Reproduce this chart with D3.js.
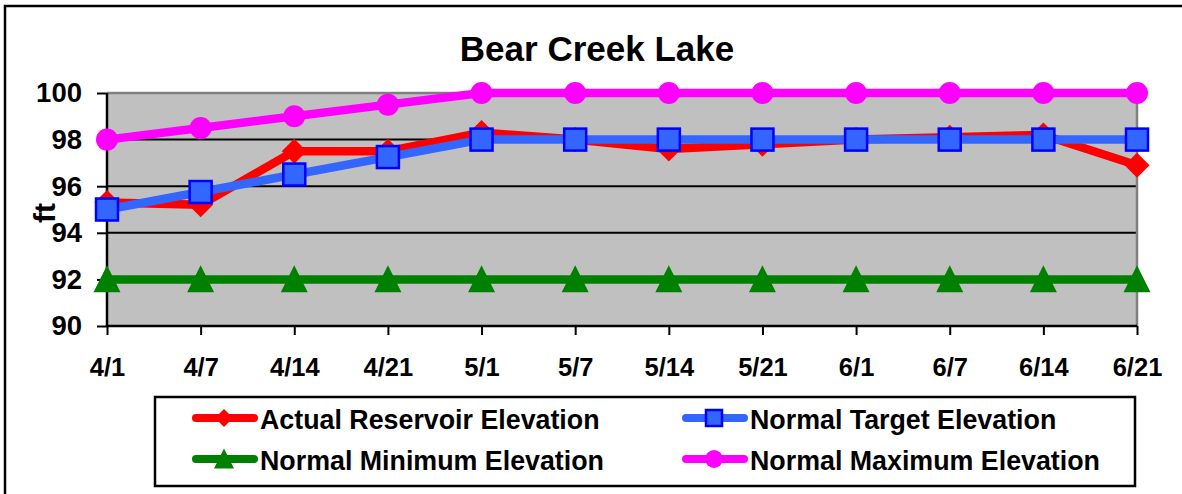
<!DOCTYPE html>
<html>
<head>
<meta charset="utf-8">
<script src="https://cdn.jsdelivr.net/npm/d3@7"></script>
<style>
  body { margin: 0; background: #fff; }
  svg { display: block; font-family: "Liberation Sans", Arial, sans-serif; font-weight: bold; }
</style>
</head>
<body>
<svg id="chart" width="1182" height="494"></svg>
<script>
// data
var dates = ["4/1", "4/7", "4/14", "4/21", "5/1", "5/7", "5/14", "5/21", "6/1", "6/7", "6/14", "6/21"];
var actual = [95.3, 95.2, 97.5, 97.5, 98.3, 98.0, 97.6, 97.8, 98.0, 98.1, 98.2, 96.9];
var target = [95.0, 95.75, 96.5, 97.25, 98, 98, 98, 98, 98, 98, 98, 98];
var minimum = [92, 92, 92, 92, 92, 92, 92, 92, 92, 92, 92, 92];
var maximum = [98, 98.5, 99, 99.5, 100, 100, 100, 100, 100, 100, 100, 100];
var yTicks = [90, 92, 94, 96, 98, 100];

var svg = d3.select("#chart");

// outer frame
svg.append("rect").attr("x", 5).attr("y", 6).attr("width", 1200).attr("height", 520)
  .attr("fill", "#fff").attr("stroke", "#000").attr("stroke-width", 2.5);

var x = d3.scalePoint().domain(dates).range([107, 1137]).padding(0);
var y = d3.scaleLinear().domain([90, 100]).range([326, 93]);

// plot area
svg.append("rect").attr("x", 107).attr("y", 93).attr("width", 1030).attr("height", 233)
  .attr("fill", "#C0C0C0");

// grid lines
svg.append("g").selectAll("line")
  .data(yTicks.filter(function(d) { return d > 90 && d < 100; }))
  .enter().append("line")
  .attr("x1", 107).attr("x2", 1137)
  .attr("y1", function(d) { return y(d); }).attr("y2", function(d) { return y(d); })
  .attr("stroke", "#000").attr("stroke-width", 2);

// top + right border
svg.append("path").attr("d", "M107," + y(100) + "H1137V326")
  .attr("fill", "none").attr("stroke", "#808080").attr("stroke-width", 2.5);

// axes
var yAxis = svg.append("g").attr("transform", "translate(107,0)")
  .call(d3.axisLeft(y).tickValues(yTicks).tickSize(10).tickPadding(15));
var xAxis = svg.append("g").attr("transform", "translate(0,326)")
  .call(d3.axisBottom(x).tickSize(9).tickPadding(23));

[yAxis, xAxis].forEach(function(a) {
  a.select(".domain").attr("stroke", "#000").attr("stroke-width", 2.5);
  a.selectAll(".tick line").attr("stroke", "#000").attr("stroke-width", 2);
  a.selectAll("text").attr("fill", "#000").style("font-family", "Liberation Sans, Arial, sans-serif")
    .style("font-weight", "bold");
});
yAxis.selectAll("text").style("font-size", "27.5px");
xAxis.selectAll("text").style("font-size", "25.5px");
yAxis.select(".domain").attr("d", "M0,326V93");
xAxis.select(".domain").attr("d", "M107,0H1137");

// title and axis title
svg.append("text").attr("x", 597).attr("y", 61).attr("text-anchor", "middle")
  .style("font-size", "35px").text("Bear Creek Lake");
svg.append("text").attr("transform", "translate(55,213) rotate(-90)")
  .attr("text-anchor", "middle").style("font-size", "30px").text("ft");

var series = [
  { name: "Actual Reservoir Elevation", values: actual, color: "#FF0000", marker: "diamond" },
  { name: "Normal Target Elevation", values: target, color: "#3366FF", marker: "square" },
  { name: "Normal Minimum Elevation", values: minimum, color: "#008000", marker: "triangle" },
  { name: "Normal Maximum Elevation", values: maximum, color: "#FF00FF", marker: "circle" }
];

function drawMarker(g, type, cx, cy, s, color) {
  if (type == "diamond") {
    g.append("path").attr("d", "M" + cx + "," + (cy - s) + "L" + (cx + s) + "," + cy + "L" + cx + "," + (cy + s) + "L" + (cx - s) + "," + cy + "Z")
      .attr("fill", color);
  }
  if (type == "square") {
    g.append("rect").attr("x", cx - s).attr("y", cy - s).attr("width", s * 2).attr("height", s * 2)
      .attr("fill", color).attr("stroke", "#0000FF").attr("stroke-width", 2.5);
  }
  if (type == "triangle") {
    g.append("path").attr("d", "M" + cx + "," + (cy - s * 1.05) + "L" + (cx + s) + "," + (cy + s * 0.95) + "L" + (cx - s) + "," + (cy + s * 0.95) + "Z")
      .attr("fill", color);
  }
  if (type == "circle") {
    g.append("circle").attr("cx", cx).attr("cy", cy).attr("r", s).attr("fill", color);
  }
}

var sizes = { diamond: 12.5, square: 11, triangle: 13.5, circle: 11 };
var line = d3.line().x(function(d, i) { return x(dates[i]); }).y(function(d) { return y(d); });

series.forEach(function(s) {
  var g = svg.append("g");
  g.append("path").datum(s.values).attr("d", line)
    .attr("fill", "none").attr("stroke", s.color).attr("stroke-width", 8.5).attr("stroke-linejoin", "round");
  s.values.forEach(function(v, i) {
    drawMarker(g, s.marker, x(dates[i]), y(v), sizes[s.marker], s.color);
  });
});

// legend
var legend = svg.append("g");
legend.append("rect").attr("x", 155).attr("y", 397).attr("width", 980).attr("height", 89)
  .attr("fill", "#fff").attr("stroke", "#000").attr("stroke-width", 2.5);

var legendPos = [[193, 418], [683, 418], [193, 459], [683, 459]];
var legendSizes = { diamond: 9, square: 8, triangle: 10, circle: 9 };
series.forEach(function(s, i) {
  var px = legendPos[i][0], py = legendPos[i][1];
  legend.append("line").attr("x1", px + 3).attr("x2", px + 61).attr("y1", py).attr("y2", py)
    .attr("stroke", s.color).attr("stroke-width", 8).attr("stroke-linecap", "round");
  drawMarker(legend, s.marker, px + 31, py, legendSizes[s.marker], s.color);
  legend.append("text").attr("x", px + 67).attr("y", py + 11)
    .style("font-size", "26.8px").text(s.name);
});
</script>
</body>
</html>
